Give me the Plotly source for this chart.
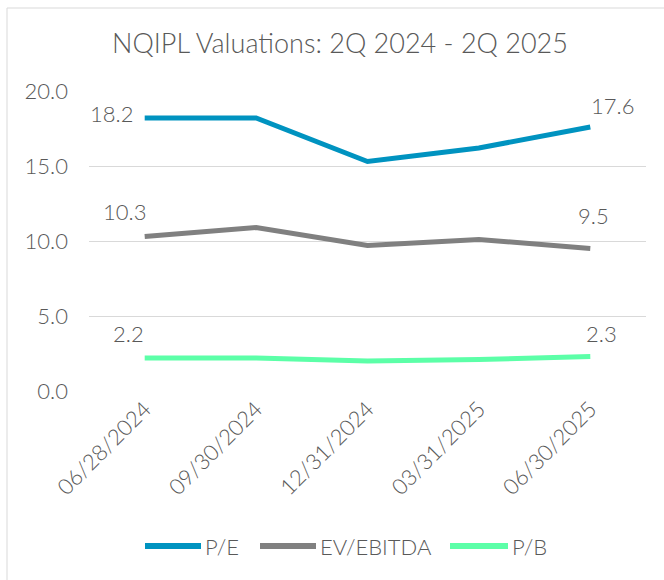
import plotly.graph_objects as go

dates = ["06/28/2024", "09/30/2024", "12/31/2024", "03/31/2025", "06/30/2025"]
pe = [18.2, 18.2, 15.3, 16.2, 17.6]
ev_ebitda = [10.3, 10.9, 9.7, 10.1, 9.5]
pb = [2.2, 2.2, 2.0, 2.1, 2.3]
y_ticks = [0, 5, 10, 15, 20]
y_tick_text = ["0.0", "5.0", "10.0", "15.0", "20.0"]

W, H = 664, 580
L, R, T, B = 89, 18, 91, 189

FONT = "Lato"
TXT = "#595959"

fig = go.Figure()
series = [("P/E", pe, "#0093C0"), ("EV/EBITDA", ev_ebitda, "#808080"), ("P/B", pb, "#5CFFA8")]
for name, vals, col in series:
    fig.add_trace(go.Scatter(x=dates, y=vals, name=name, mode="lines",
                             line=dict(color=col, width=5), hoverinfo="skip"))

# data labels on first and last points
label_offsets = {
    "P/E": [(-33, -5), (22, -22)],
    "EV/EBITDA": [(-20, -25), (3, -33)],
    "P/B": [(-16, -25), (11, -23)],
}
for name, vals, col in series:
    for idx, (dx, dy) in zip([0, len(vals) - 1], label_offsets[name]):
        fig.add_annotation(x=dates[idx], y=vals[idx], text=f"{vals[idx]:.1f}",
                           showarrow=False, xshift=dx, yshift=-dy,
                           font=dict(family=FONT, size=22, color=TXT, weight=300))

pw = W - L - R
ph = H - T - B
def px_to_paper_x(px):
    return (px - L) / pw
def px_to_paper_y(py):
    return (H - B - py) / ph

# outer border (partly cropped)
fig.add_shape(type="rect", xref="paper", yref="paper",
              x0=px_to_paper_x(7), x1=px_to_paper_x(700),
              y0=px_to_paper_y(620), y1=px_to_paper_y(8),
              line=dict(color="#D9D9D9", width=1), fillcolor="rgba(0,0,0,0)", layer="below")

# custom legend (longer line samples than plotly's built-in legend)
legend_pos = [(145, 201), (260, 316), (450, 508)]
legend_y = 546
for (name, vals, col), (lx0, lx1) in zip(series, legend_pos):
    fig.add_shape(type="line", xref="paper", yref="paper",
                  x0=px_to_paper_x(lx0), x1=px_to_paper_x(lx1),
                  y0=px_to_paper_y(legend_y), y1=px_to_paper_y(legend_y),
                  line=dict(color=col, width=6))
    fig.add_annotation(xref="paper", yref="paper", x=px_to_paper_x(lx1 + 2),
                       y=px_to_paper_y(legend_y), xanchor="left", yanchor="middle",
                       text=name, showarrow=False,
                       font=dict(family=FONT, size=22, color=TXT, weight=300))

fig.update_layout(
    width=W, height=H,
    margin=dict(l=L, r=R, t=T, b=B, autoexpand=False),
    paper_bgcolor="white", plot_bgcolor="white",
    title=dict(text="NQIPL Valuations: 2Q 2024 - 2Q 2025", x=340 / W, xanchor="center",
               y=1 - 44 / H, yanchor="middle", yref="container",
               font=dict(family=FONT, size=27, color=TXT, weight=300)),
    xaxis=dict(type="category", range=[-0.5, len(dates) - 0.5], tickangle=-45,
               showgrid=False, showline=False, zeroline=False,
               ticks="", tickfont=dict(family=FONT, size=22, color=TXT, weight=300)),
    yaxis=dict(range=[0, 20], tickvals=y_ticks, ticktext=y_tick_text, showgrid=True,
               gridcolor="#D9D9D9", gridwidth=1, zeroline=False, showline=False, ticks="",
               ticklabelstandoff=20,
               tickfont=dict(family=FONT, size=22, color=TXT, weight=300)),
    showlegend=False,
)

fig.write_html("out.html", config={"displayModeBar": False},
               post_script="document.body.style.margin='0';document.body.style.overflow='hidden';")
